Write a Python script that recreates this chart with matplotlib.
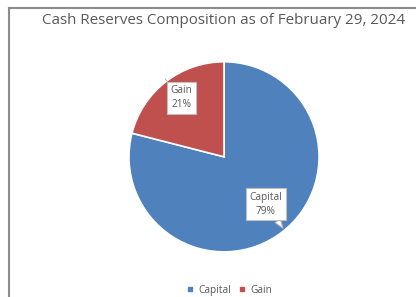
"""
pie of cash reserves composition
"""

import matplotlib
matplotlib.use('Agg')
import matplotlib.pyplot as plt
from matplotlib.lines import Line2D

labels = ['Capital', 'Gain']
shares = [79, 21]
colors = ['#4F81BD', '#C0504D']

plt.rcParams['font.family'] = ['Open Sans', 'DejaVu Sans']

fig = plt.figure(figsize=(4.16, 2.97), dpi=100)

# chart frame (only left and top edges are visible in the crop)
fx, fy = 8.5 / 416, 1 - 7.5 / 297
fig.add_artist(Line2D([fx, fx], [0, fy], transform=fig.transFigure,
                      color='#8c8c8c', lw=1.5))
fig.add_artist(Line2D([fx, 1], [fy, fy], transform=fig.transFigure,
                      color='#8c8c8c', lw=1.5))

fig.text(0.537, 0.930, 'Cash Reserves Composition as of February 29, 2024',
         ha='center', va='center', fontsize=10.9, color='#595959')

ax = fig.add_axes([0.310, 0.152, 0.457, 0.640])
wedges, _ = ax.pie(shares, colors=colors, startangle=90, counterclock=False,
                   wedgeprops=dict(edgecolor='white', linewidth=1.2))
ax.set_xlim(-1, 1)
ax.set_ylim(-1, 1)
ax.set_aspect('equal')

box = dict(boxstyle='square,pad=0.35', fc='white', ec='#bfbfbf', lw=0.8)
ax.annotate(f'{labels[1]}\n{shares[1]}%', xy=(-0.62, 0.82), xytext=(-0.45, 0.62),
            ha='center', va='center', fontsize=7.3, color='#595959',
            linespacing=1.4, bbox=box,
            arrowprops=dict(arrowstyle='-', color='#a6a6a6', lw=0.6,
                            shrinkA=0, shrinkB=0))
ax.annotate(f'{labels[0]}\n{shares[0]}%', xy=(0.62, -0.75), xytext=(0.44, -0.50),
            ha='center', va='center', fontsize=7.3, color='#595959',
            linespacing=1.4, bbox=box,
            arrowprops=dict(arrowstyle='wedge,tail_width=0.6', fc='white',
                            ec='#bfbfbf', lw=0.8, shrinkA=0, shrinkB=0))

handles = [Line2D([], [], marker='s', ls='', color=c, markersize=3.5)
           for c in colors]
fig.legend(handles, labels, loc='center', bbox_to_anchor=(0.55, 0.022),
           ncol=2, frameon=False, fontsize=7.3, handlelength=0.8,
           handletextpad=0.4, columnspacing=0.7, labelcolor='#595959')

fig.savefig('out.png', dpi=100)
